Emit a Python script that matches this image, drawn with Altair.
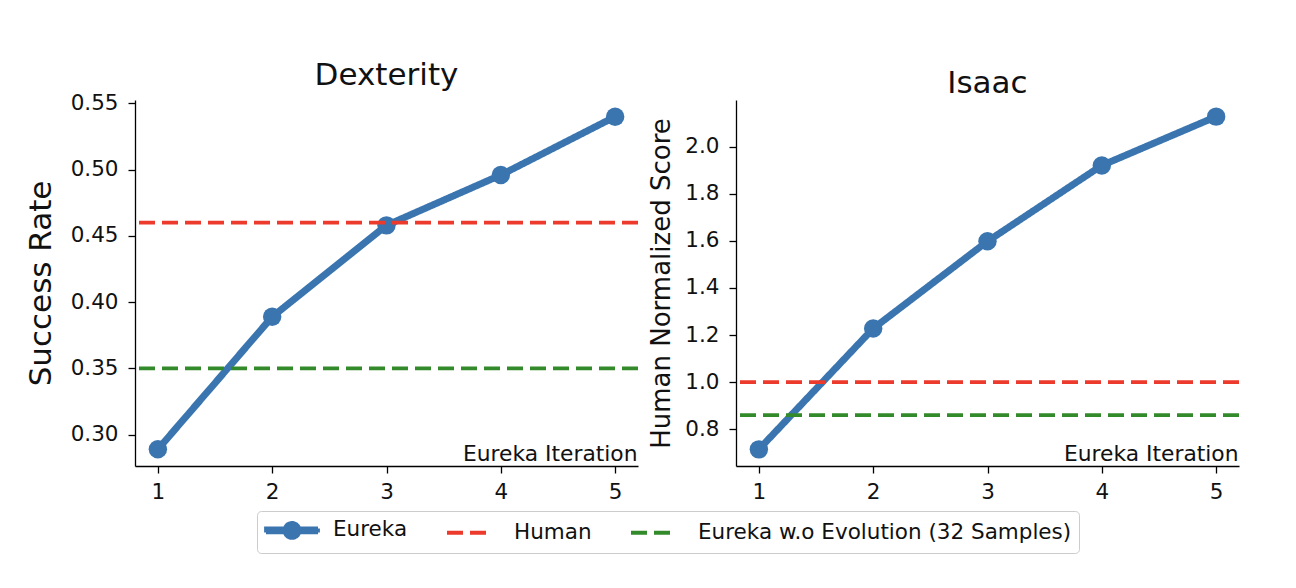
import altair as alt
import pandas as pd

# ---------------- data ----------------
iterations = [1, 2, 3, 4, 5]
dexterity_eureka = [0.289, 0.389, 0.458, 0.496, 0.540]
isaac_eureka = [0.715, 1.228, 1.598, 1.920, 2.127]
dexterity_human = 0.46
dexterity_no_evolution = 0.35
isaac_human = 1.0
isaac_no_evolution = 0.86

series_names = ["Eureka", "Human", "Eureka w.o Evolution (32 Samples)"]
series_colors = ["#3a75b0", "#ec3a2c", "#338a2b"]
series_dashes = [[1, 0], [16, 7], [16, 7]]

dexterity_ticks = [0.30, 0.35, 0.40, 0.45, 0.50, 0.55]
isaac_ticks = [0.8, 1.0, 1.2, 1.4, 1.6, 1.8, 2.0]
dexterity_domain = [0.2764, 0.5526]
isaac_domain = [0.6444, 2.1976]
x_domain = [0.8, 5.2]

# legend symbol shapes (unit = sqrt(symbolSize)/2 px)
eureka_symbol = (
    "M-1,-0.2H4.2V0.2H-1Z M-1,0H4.2 "
    "M2.35,0A0.75,0.75 0 1,0 0.85,0A0.75,0.75 0 1,0 2.35,0 "
    "M2.05,0A0.45,0.45 0 1,0 1.15,0A0.45,0.45 0 1,0 2.05,0 "
    "M1.75,0A0.15,0.15 0 1,0 1.45,0A0.15,0.15 0 1,0 1.75,0"
)
dash_symbol = "M-1,0H3"
legend_shapes = [eureka_symbol, dash_symbol, dash_symbol]

W, H = 503, 366
FONT = "DejaVu Sans"
TXT = "#111111"

color_scale = alt.Scale(domain=series_names, range=series_colors)
dash_scale = alt.Scale(domain=series_names, range=series_dashes)
shape_scale = alt.Scale(domain=series_names, range=legend_shapes)

legend_def = alt.Legend(
    title=None,
    orient="none",
    legendX=122,
    legendY=411,
    direction="horizontal",
)


def panel(title, ylabel, ylabel_size, ylabel_pad, values, human_val, noevo_val,
          ydomain, yticks, yfmt, with_legend_layer):
    line_df = pd.DataFrame({"iteration": iterations, "value": values,
                            "series": [series_names[0]] * len(iterations)})
    rule_df = pd.DataFrame({"value": [human_val, noevo_val],
                            "series": [series_names[1], series_names[2]]})

    xenc = alt.X(
        "iteration:Q",
        scale=alt.Scale(domain=x_domain, nice=False, zero=False),
        axis=alt.Axis(values=iterations, format="d", title="Eureka Iteration",
                      titleX=W - 1, titleY=-6, titleAlign="right", titleAnchor="end",
                      titleBaseline="alphabetic", titleFontSize=21.8,
                      labelPadding=8),
    )
    yenc = alt.Y(
        "value:Q",
        scale=alt.Scale(domain=ydomain, nice=False, zero=False),
        axis=alt.Axis(values=yticks, format=yfmt, title=ylabel,
                      titleFontSize=ylabel_size, titlePadding=ylabel_pad,
                      labelPadding=10),
    )
    color = alt.Color("series:N", scale=color_scale, legend=legend_def)
    dash = alt.StrokeDash("series:N", scale=dash_scale, legend=legend_def)

    line = alt.Chart(line_df).mark_line(strokeWidth=7, strokeJoin="round").encode(
        x=xenc, y=yenc, color=color, strokeDash=dash)
    pts = alt.Chart(line_df).mark_circle(size=340, opacity=1).encode(
        x="iteration:Q", y="value:Q", color=color)
    rules = alt.Chart(rule_df).mark_rule(strokeWidth=3.8).encode(
        y="value:Q", color=color, strokeDash=dash)
    layers = [line, pts, rules]
    if with_legend_layer:
        leg_df = pd.DataFrame({"series": series_names})
        dummy = alt.Chart(leg_df).mark_point(opacity=0, filled=True).encode(
            shape=alt.Shape("series:N", scale=shape_scale, legend=legend_def),
            color=color, strokeDash=dash)
        layers.append(dummy)
    return alt.layer(*layers).properties(
        width=W, height=H,
        title=alt.TitleParams(title, fontSize=31, font=FONT, fontWeight="normal",
                              color=TXT, offset=0),
    )


left = panel("Dexterity", "Success Rate", 31, 13, dexterity_eureka,
             dexterity_human, dexterity_no_evolution, dexterity_domain,
             dexterity_ticks, ".2f", True)
right = panel("Isaac", "Human Normalized Score", 26, 10, isaac_eureka,
              isaac_human, isaac_no_evolution, isaac_domain,
              isaac_ticks, ".1f", False)

chart = alt.hconcat(left, right, spacing=8).properties(
    padding={"left": 17, "top": 52, "right": 5, "bottom": 5}
).configure_view(stroke=None).configure_axis(
    grid=False, domainColor="black", tickColor="black", domainWidth=1.3,
    tickWidth=1.3, tickSize=7, labelColor=TXT, titleColor=TXT,
    labelFont=FONT, titleFont=FONT, labelFontSize=21.5, titleFontWeight="normal",
).configure_legend(
    labelFont=FONT, labelFontSize=21.5, labelColor=TXT, labelLimit=600,
    symbolSize=400, symbolStrokeWidth=3.8, symbolOpacity=1,
    labelOffset=45, columnPadding=31, padding=7,
    strokeColor="#cccccc", cornerRadius=4, fillColor="white",
)

chart.save("out.html", embed_options={"renderer": "svg", "actions": False})
